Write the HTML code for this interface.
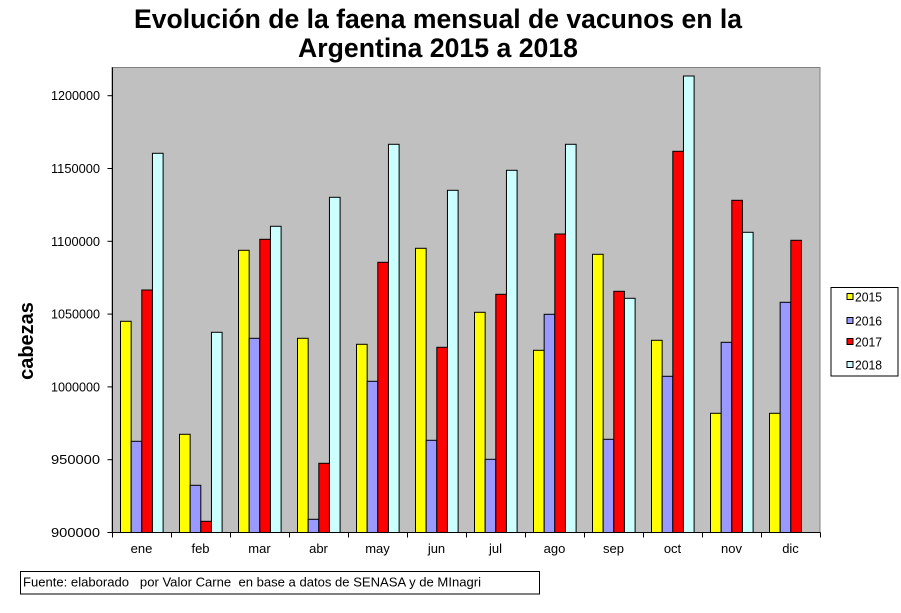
<!DOCTYPE html>
<html><head><meta charset="utf-8"><style>
html,body{margin:0;padding:0;background:#fff;}
svg{display:block;}
text{font-family:"Liberation Sans",Arial,sans-serif;fill:#000;}
</style></head><body>
<svg width="901" height="613" viewBox="0 0 901 613" xmlns="http://www.w3.org/2000/svg">
<rect x="0" y="0" width="901" height="613" fill="#fff"/>
<!-- title -->
<text x="438" y="28" font-size="27" font-weight="bold" text-anchor="middle" textLength="608" lengthAdjust="spacingAndGlyphs">Evolución de la faena mensual de vacunos en la</text>
<text x="438" y="57" font-size="27" font-weight="bold" text-anchor="middle" textLength="280" lengthAdjust="spacingAndGlyphs">Argentina 2015 a 2018</text>
<!-- plot area -->
<rect x="112" y="67.5" width="708" height="465" fill="#C0C0C0" stroke="#808080" stroke-width="1"/>
<!-- bars -->
<g stroke="#000" stroke-width="1">
<g transform="translate(112,0)">
<rect x="8.5" y="321.3" width="10.65" height="211.2" fill="#FFFF00"/>
<rect x="19.15" y="441.3" width="10.65" height="91.2" fill="#9999FF"/>
<rect x="29.8" y="290" width="10.65" height="242.5" fill="#FF0000"/>
<rect x="40.45" y="153.3" width="10.65" height="379.2" fill="#CCFFFF"/>
</g>
<g transform="translate(171,0)">
<rect x="8.5" y="434.3" width="10.65" height="98.2" fill="#FFFF00"/>
<rect x="19.15" y="485.3" width="10.65" height="47.2" fill="#9999FF"/>
<rect x="29.8" y="521.3" width="10.65" height="11.2" fill="#FF0000"/>
<rect x="40.45" y="332.3" width="10.65" height="200.2" fill="#CCFFFF"/>
</g>
<g transform="translate(230,0)">
<rect x="8.5" y="250.3" width="10.65" height="282.2" fill="#FFFF00"/>
<rect x="19.15" y="338.3" width="10.65" height="194.2" fill="#9999FF"/>
<rect x="29.8" y="239.3" width="10.65" height="293.2" fill="#FF0000"/>
<rect x="40.45" y="226.3" width="10.65" height="306.2" fill="#CCFFFF"/>
</g>
<g transform="translate(289,0)">
<rect x="8.5" y="338.3" width="10.65" height="194.2" fill="#FFFF00"/>
<rect x="19.15" y="519.3" width="10.65" height="13.2" fill="#9999FF"/>
<rect x="29.8" y="463.3" width="10.65" height="69.2" fill="#FF0000"/>
<rect x="40.45" y="197.3" width="10.65" height="335.2" fill="#CCFFFF"/>
</g>
<g transform="translate(348,0)">
<rect x="8.5" y="344.3" width="10.65" height="188.2" fill="#FFFF00"/>
<rect x="19.15" y="381.3" width="10.65" height="151.2" fill="#9999FF"/>
<rect x="29.8" y="262.3" width="10.65" height="270.2" fill="#FF0000"/>
<rect x="40.45" y="144.3" width="10.65" height="388.2" fill="#CCFFFF"/>
</g>
<g transform="translate(407,0)">
<rect x="8.5" y="248.3" width="10.65" height="284.2" fill="#FFFF00"/>
<rect x="19.15" y="440.3" width="10.65" height="92.2" fill="#9999FF"/>
<rect x="29.8" y="347.3" width="10.65" height="185.2" fill="#FF0000"/>
<rect x="40.45" y="190.3" width="10.65" height="342.2" fill="#CCFFFF"/>
</g>
<g transform="translate(466,0)">
<rect x="8.5" y="312.3" width="10.65" height="220.2" fill="#FFFF00"/>
<rect x="19.15" y="459.3" width="10.65" height="73.2" fill="#9999FF"/>
<rect x="29.8" y="294.3" width="10.65" height="238.2" fill="#FF0000"/>
<rect x="40.45" y="170.3" width="10.65" height="362.2" fill="#CCFFFF"/>
</g>
<g transform="translate(525,0)">
<rect x="8.5" y="350.3" width="10.65" height="182.2" fill="#FFFF00"/>
<rect x="19.15" y="314.3" width="10.65" height="218.2" fill="#9999FF"/>
<rect x="29.8" y="234" width="10.65" height="298.5" fill="#FF0000"/>
<rect x="40.45" y="144.3" width="10.65" height="388.2" fill="#CCFFFF"/>
</g>
<g transform="translate(584,0)">
<rect x="8.5" y="254.3" width="10.65" height="278.2" fill="#FFFF00"/>
<rect x="19.15" y="439.3" width="10.65" height="93.2" fill="#9999FF"/>
<rect x="29.8" y="291.3" width="10.65" height="241.2" fill="#FF0000"/>
<rect x="40.45" y="298.3" width="10.65" height="234.2" fill="#CCFFFF"/>
</g>
<g transform="translate(643,0)">
<rect x="8.5" y="340.3" width="10.65" height="192.2" fill="#FFFF00"/>
<rect x="19.15" y="376.3" width="10.65" height="156.2" fill="#9999FF"/>
<rect x="29.8" y="151.3" width="10.65" height="381.2" fill="#FF0000"/>
<rect x="40.45" y="76" width="10.65" height="456.5" fill="#CCFFFF"/>
</g>
<g transform="translate(702,0)">
<rect x="8.5" y="413.3" width="10.65" height="119.2" fill="#FFFF00"/>
<rect x="19.15" y="342.3" width="10.65" height="190.2" fill="#9999FF"/>
<rect x="29.8" y="200.3" width="10.65" height="332.2" fill="#FF0000"/>
<rect x="40.45" y="232.3" width="10.65" height="300.2" fill="#CCFFFF"/>
</g>
<g transform="translate(761,0)">
<rect x="8.5" y="413.3" width="10.65" height="119.2" fill="#FFFF00"/>
<rect x="19.15" y="302.3" width="10.65" height="230.2" fill="#9999FF"/>
<rect x="29.8" y="240.3" width="10.65" height="292.2" fill="#FF0000"/>
</g>
</g>
<!-- axes -->
<g stroke="#000" stroke-width="1">
<line x1="112.5" y1="67.5" x2="112.5" y2="533"/>
<line x1="112" y1="532.5" x2="820.5" y2="532.5"/>
<line x1="107.5" y1="532.5" x2="112.5" y2="532.5"/>
<line x1="107.5" y1="459.7" x2="112.5" y2="459.7"/>
<line x1="107.5" y1="386.9" x2="112.5" y2="386.9"/>
<line x1="107.5" y1="314.1" x2="112.5" y2="314.1"/>
<line x1="107.5" y1="241.3" x2="112.5" y2="241.3"/>
<line x1="107.5" y1="168.5" x2="112.5" y2="168.5"/>
<line x1="107.5" y1="95.7" x2="112.5" y2="95.7"/>
<line x1="112.5" y1="532.5" x2="112.5" y2="537.5"/>
<line x1="171.5" y1="532.5" x2="171.5" y2="537.5"/>
<line x1="230.5" y1="532.5" x2="230.5" y2="537.5"/>
<line x1="289.5" y1="532.5" x2="289.5" y2="537.5"/>
<line x1="348.5" y1="532.5" x2="348.5" y2="537.5"/>
<line x1="407.5" y1="532.5" x2="407.5" y2="537.5"/>
<line x1="466.5" y1="532.5" x2="466.5" y2="537.5"/>
<line x1="525.5" y1="532.5" x2="525.5" y2="537.5"/>
<line x1="584.5" y1="532.5" x2="584.5" y2="537.5"/>
<line x1="643.5" y1="532.5" x2="643.5" y2="537.5"/>
<line x1="702.5" y1="532.5" x2="702.5" y2="537.5"/>
<line x1="761.5" y1="532.5" x2="761.5" y2="537.5"/>
<line x1="820.5" y1="532.5" x2="820.5" y2="537.5"/>
</g>
<!-- y tick labels -->
<g font-size="12.5" text-anchor="end">
<text x="100" y="537" textLength="49" lengthAdjust="spacingAndGlyphs">900000</text>
<text x="100" y="464.2" textLength="49" lengthAdjust="spacingAndGlyphs">950000</text>
<text x="100" y="391.4" textLength="49" lengthAdjust="spacingAndGlyphs">1000000</text>
<text x="100" y="318.6" textLength="49" lengthAdjust="spacingAndGlyphs">1050000</text>
<text x="100" y="245.8" textLength="49" lengthAdjust="spacingAndGlyphs">1100000</text>
<text x="100" y="173" textLength="49" lengthAdjust="spacingAndGlyphs">1150000</text>
<text x="100" y="100.2" textLength="49" lengthAdjust="spacingAndGlyphs">1200000</text>
</g>
<!-- x labels -->
<g font-size="13" text-anchor="middle">
<text x="141.5" y="553">ene</text>
<text x="200.5" y="553">feb</text>
<text x="259.5" y="553">mar</text>
<text x="318.5" y="553">abr</text>
<text x="377.5" y="553">may</text>
<text x="436.5" y="553">jun</text>
<text x="495.5" y="553">jul</text>
<text x="554.5" y="553">ago</text>
<text x="613.5" y="553">sep</text>
<text x="672.5" y="553">oct</text>
<text x="731.5" y="553">nov</text>
<text x="790.5" y="553">dic</text>
</g>
<!-- y axis title -->
<text transform="translate(33,341) rotate(-90)" font-size="20" font-weight="bold" text-anchor="middle">cabezas</text>
<!-- legend -->
<rect x="831" y="287.5" width="67" height="88.5" fill="#fff" stroke="#000" stroke-width="1"/>
<g stroke="#000" stroke-width="1">
<rect x="847" y="293.5" width="6" height="6" fill="#FFFF00"/>
<rect x="847" y="317.5" width="6" height="6" fill="#9999FF"/>
<rect x="847" y="338.5" width="6" height="6" fill="#FF0000"/>
<rect x="847" y="361.5" width="6" height="6" fill="#CCFFFF"/>
</g>
<g font-size="13">
<text x="855" y="301.5" textLength="27" lengthAdjust="spacingAndGlyphs">2015</text>
<text x="855" y="325.5" textLength="27" lengthAdjust="spacingAndGlyphs">2016</text>
<text x="855" y="346.5" textLength="27" lengthAdjust="spacingAndGlyphs">2017</text>
<text x="855" y="369.5" textLength="27" lengthAdjust="spacingAndGlyphs">2018</text>
</g>
<!-- footnote -->
<rect x="20.5" y="571.5" width="519" height="22.5" fill="#fff" stroke="#000" stroke-width="1"/>
<text x="23" y="586.5" font-size="12.5" textLength="458" lengthAdjust="spacingAndGlyphs" xml:space="preserve">Fuente: elaborado   por Valor Carne  en base a datos de SENASA y de MInagri</text>
</svg>
</body></html>
